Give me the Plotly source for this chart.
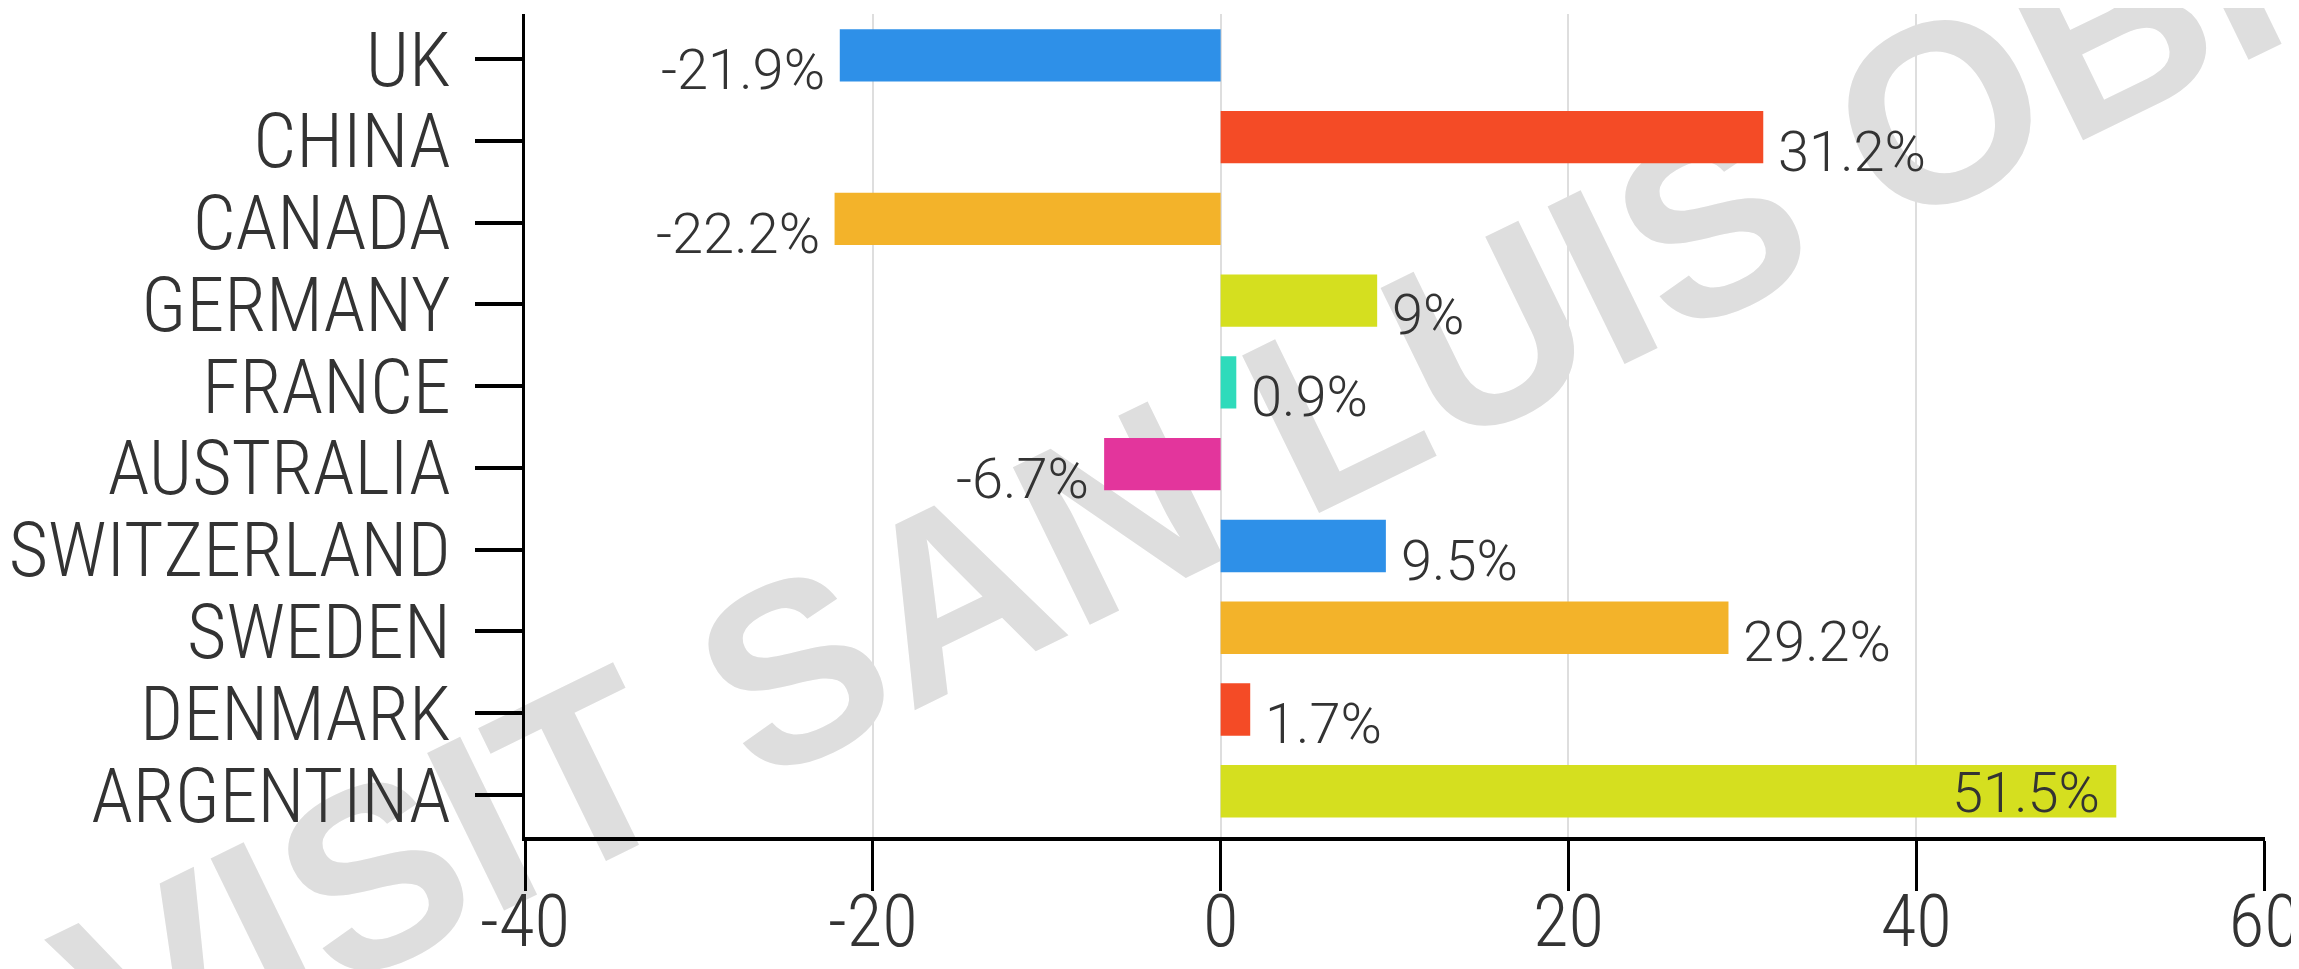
import plotly.graph_objects as go

countries = ["UK", "CHINA", "CANADA", "GERMANY", "FRANCE", "AUSTRALIA",
             "SWITZERLAND", "SWEDEN", "DENMARK", "ARGENTINA"]
values = [-21.9, 31.2, -22.2, 9, 0.9, -6.7, 9.5, 29.2, 1.7, 51.5]
labels = ["-21.9%", "31.2%", "-22.2%", "9%", "0.9%", "-6.7%", "9.5%", "29.2%", "1.7%", "51.5%"]
colors = ["#2E90E8", "#F44B26", "#F3B32A", "#D5DF1F", "#2FDBBB", "#E3359C",
          "#2E90E8", "#F3B32A", "#F44B26", "#D5DF1F"]
x_ticks = [-40, -20, 0, 20, 40, 60]

FONT = "Roboto Condensed, Liberation Sans Narrow, DejaVu Sans Condensed, sans-serif"
VFONT = "Roboto, Liberation Sans, sans-serif"
TXT = "#333333"
WEIGHT = 300

# page body adds an 8px margin, so the figure is 8px smaller than the window
W, H = 2291, 961
ML, MR, MT, MB = 517, 34, 6, 132

bar_width = 0.64
fig = go.Figure()
fig.add_trace(go.Bar(
    x=values, y=countries, orientation="h",
    marker=dict(color=colors, line=dict(width=0)),
    width=bar_width, offset=-bar_width / 2 - 0.045,
    hoverinfo="skip",
))

annotations = []
for c, v, t in zip(countries, values, labels):
    inside = v > 45
    if inside:
        annotations.append(dict(x=v, y=c, text=t, showarrow=False, xanchor="right",
                                yanchor="middle", xshift=-14, yshift=2,
                                font=dict(family=VFONT, size=56, color=TXT, weight=WEIGHT)))
    else:
        annotations.append(dict(x=v, y=c, text=t, showarrow=False,
                                xanchor="left" if v > 0 else "right",
                                yanchor="middle", xshift=13 if v > 0 else -13, yshift=-11,
                                font=dict(family=VFONT, size=56, color=TXT, weight=WEIGHT)))

# watermark drawn beneath the bars
shapes = [dict(
    type="line", xref="paper", yref="paper", layer="below",
    x0=0.4001, y0=0.4876, x1=0.6067, y1=0.7008,
    line=dict(color="rgba(0,0,0,0)", width=0),
    label=dict(text="VISIT SAN LUIS OBISPO", textposition="middle",
               xanchor="center", yanchor="middle", textangle=-26,
               font=dict(family="Liberation Sans, Arial, sans-serif", size=255,
                         color="#DEDEDE", weight="bold")),
)]

fig.update_layout(
    width=W, height=H, autosize=False,
    margin=dict(l=ML, r=MR, t=MT, b=MB, pad=0),
    paper_bgcolor="white", plot_bgcolor="white",
    showlegend=False,
    annotations=annotations,
    shapes=shapes,
    font=dict(family=FONT, color=TXT),
)
fig.update_xaxes(
    range=[-40, 60.05], tickmode="array", tickvals=x_ticks, ticktext=[str(v) for v in x_ticks],
    showgrid=True, gridcolor="#DEDEDE", gridwidth=2, zeroline=False,
    showline=True, linecolor="black", linewidth=4,
    ticks="outside", ticklen=50, tickwidth=3, tickcolor="black",
    tickfont=dict(family=FONT, size=73, color=TXT, weight=WEIGHT),
    ticklabeloverflow="allow", automargin=False, ticklabelstandoff=-33,
)
fig.update_yaxes(
    categoryorder="array", categoryarray=countries,
    tickmode="array", tickvals=countries, ticktext=countries,
    range=[9.514, -0.55],
    showgrid=False, zeroline=False,
    showline=True, linecolor="black", linewidth=3,
    ticks="outside", ticklen=47, tickwidth=4, tickcolor="black",
    tickfont=dict(family=FONT, size=76, color=TXT, weight=WEIGHT),
    ticklabelstandoff=9, automargin=False,
)

fig.write_html("out.html")
